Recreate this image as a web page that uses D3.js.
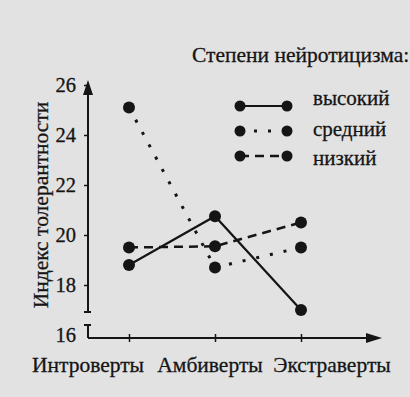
<!DOCTYPE html>
<html>
<head>
<meta charset="utf-8">
<script src="https://cdn.jsdelivr.net/npm/d3@7.9.0/dist/d3.min.js"></script>
<style>
  html, body { margin: 0; padding: 0; background: #e2e2e2; }
  svg { display: block; }
  text { font-family: "Liberation Serif", "DejaVu Serif", serif; fill: #151515; stroke: #151515; stroke-width: 0.3; }
</style>
</head>
<body>
<svg id="chart" width="410" height="397"></svg>
<script>
// categories and series
const groups = ["Интроверты", "Амбиверты", "Экстраверты"];
const yTicks = [16, 18, 20, 22, 24, 26];
const high = [18.8, 20.75, 17.0];
const medium = [25.1, 18.7, 19.5];
const low = [19.5, 19.55, 20.5];
const seriesNames = ["высокий", "средний", "низкий"];

const ink = "#151515";
const svg = d3.select("#chart");

const x = d3.scalePoint().domain(groups).range([129, 301]);
const xLabel = d3.scalePoint().domain(groups).range([88, 332]);
const y = d3.scaleLinear().domain([16, 26]).range([335, 85]);

const series = [
  { name: seriesNames[0], values: high, dash: null, width: 2.2 },
  { name: seriesNames[1], values: medium, dash: "3,11", width: 3 },
  { name: seriesNames[2], values: low, dash: "9,6", width: 2.5 },
];

// y axis
const axisX = 88;
const gy = svg.append("g").attr("transform", `translate(${axisX},0)`)
  .call(d3.axisLeft(y).tickValues(yTicks).tickSize(4).tickPadding(8));
gy.select(".domain").remove();
gy.selectAll("line").attr("stroke", ink).attr("stroke-width", 1.5);
gy.selectAll("text").attr("font-size", 20.5).attr("font-family", "Liberation Serif").attr("fill", ink);
gy.selectAll(".tick").filter((d) => d === 16).select("line").remove();

// axis line with break and arrow
svg.append("path")
  .attr("d", `M${axisX},312 L${axisX},90 M${axisX - 4},312 L${axisX + 3},312 M${axisX - 4},325 L${axisX + 3},325 M${axisX},325 L${axisX},338`)
  .attr("stroke", ink).attr("stroke-width", 2).attr("fill", "none");
svg.append("path")
  .attr("d", `M${axisX},80 L${axisX - 5},95 L${axisX + 5},95 Z`)
  .attr("fill", ink);

// x axis
const baseY = 338;
const gx = svg.append("g").attr("transform", `translate(0,${baseY})`)
  .call(d3.axisBottom(x).tickSize(4).tickFormat(""));
gx.select(".domain").remove();
gx.selectAll("line").attr("y1", -4).attr("y2", 4).attr("stroke", ink).attr("stroke-width", 1.5);
svg.append("line")
  .attr("x1", axisX).attr("x2", 372).attr("y1", baseY).attr("y2", baseY)
  .attr("stroke", ink).attr("stroke-width", 2);
svg.append("path")
  .attr("d", `M382,${baseY} L366,${baseY - 5} L366,${baseY + 5} Z`)
  .attr("fill", ink);

svg.append("g").selectAll("text").data(groups).join("text")
  .attr("x", (d) => xLabel(d))
  .attr("y", 372)
  .attr("text-anchor", "middle")
  .attr("font-size", 21.5)
  .text((d) => d);

// y title
svg.append("text")
  .attr("transform", "translate(48,205) rotate(-90)")
  .attr("text-anchor", "middle")
  .attr("font-size", 21.5)
  .text("Индекс толерантности");

// lines
const line = d3.line().x((d, i) => x(groups[i])).y((d) => y(d));
svg.append("g").selectAll("path").data(series).join("path")
  .attr("d", (s) => line(s.values))
  .attr("fill", "none")
  .attr("stroke", ink)
  .attr("stroke-width", (s) => s.width)
  .attr("stroke-dasharray", (s) => s.dash);

// markers
series.forEach((s) => {
  svg.append("g").selectAll("circle").data(s.values).join("circle")
    .attr("cx", (d, i) => x(groups[i]))
    .attr("cy", (d) => y(d))
    .attr("r", 6)
    .attr("fill", ink);
});

// legend
svg.append("text")
  .attr("x", 192).attr("y", 62)
  .attr("font-size", 21.5)
  .text("Степени нейротицизма:");

const legendRows = [106, 131, 156];
const legendText = [105, 136, 165];
const lg = svg.append("g");
series.forEach((s, i) => {
  lg.append("line")
    .attr("x1", 240).attr("x2", 287)
    .attr("y1", legendRows[i]).attr("y2", legendRows[i])
    .attr("stroke", ink)
    .attr("stroke-width", s.width)
    .attr("stroke-dasharray", s.dash);
  lg.selectAll(null).data([240, 287]).join("circle")
    .attr("cx", (d) => d).attr("cy", legendRows[i]).attr("r", 5.5).attr("fill", ink);
  lg.append("text")
    .attr("x", 313).attr("y", legendText[i])
    .attr("font-size", 21)
    .text(s.name);
});
</script>
</body>
</html>
